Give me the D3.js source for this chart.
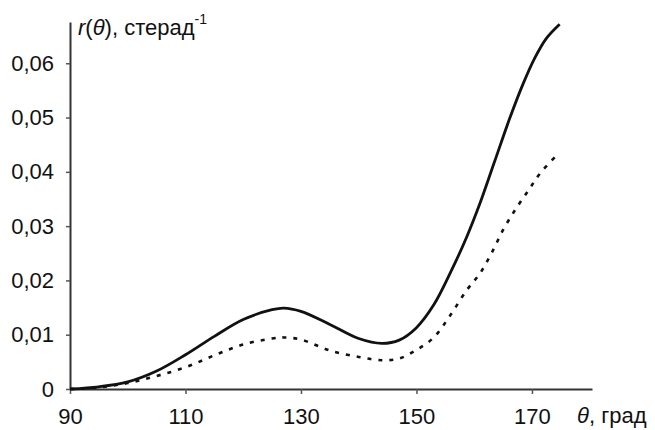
<!DOCTYPE html>
<html>
<head>
<meta charset="utf-8">
<script src="https://cdn.jsdelivr.net/npm/d3@7"></script>
<style>
  html, body { margin: 0; padding: 0; background: #fff; }
  svg { display: block; }
  text { font-family: "Liberation Sans", Arial, sans-serif; fill: #111; }
</style>
</head>
<body>
<svg id="chart" width="655" height="430"></svg>
<script>
// Data
const thetaSolid = [90, 95, 100, 105, 110, 115, 120, 125, 127, 130, 135, 140, 144, 147, 150, 153, 156, 158.7, 161, 163.5, 166.2, 168.5, 170.5, 172.5, 174.8];
const rSolid     = [0, 0.0004, 0.0013, 0.0033, 0.0063, 0.0097, 0.0128, 0.0146, 0.0149, 0.0143, 0.0119, 0.0093, 0.0084, 0.0090, 0.0113, 0.0155, 0.0217, 0.0280, 0.0342, 0.0418, 0.0500, 0.0563, 0.0610, 0.0646, 0.0672];
const thetaDashed = [90, 95, 100, 105, 110, 115, 120, 125, 127, 130, 135, 140, 144, 147, 150, 153, 156, 158.7, 161, 163, 165, 167.1, 169.4, 171.4, 174.6];
const rDashed     = [0, 0.0003, 0.0011, 0.0024, 0.0040, 0.0062, 0.0082, 0.0093, 0.0095, 0.0091, 0.0071, 0.0059, 0.0053, 0.0056, 0.0072, 0.0095, 0.0138, 0.0182, 0.0213, 0.0250, 0.0293, 0.0330, 0.0366, 0.0397, 0.0434];
const xTicks = [90, 110, 130, 150, 170];
const yTicks = [0, 0.01, 0.02, 0.03, 0.04, 0.05, 0.06];
const xDomain = [90, 180.4];
const yDomain = [0, 0.0676];

const svg = d3.select("#chart");
const margin = {left: 70, top: 22, right: 63, bottom: 41};
const W = 655, H = 430;

const x = d3.scaleLinear().domain(xDomain).range([margin.left, W - margin.right]);
const y = d3.scaleLinear().domain(yDomain).range([H - margin.bottom, margin.top]);

const fmtY = d => d === 0 ? "0" : d3.format(".2f")(d).replace(".", ",");

// Axes
const xAxis = svg.append("g")
  .attr("transform", `translate(0,${y(0)})`)
  .call(d3.axisBottom(x).tickValues(xTicks).tickSize(5).tickPadding(14).tickSizeOuter(0));
const yAxis = svg.append("g")
  .attr("transform", `translate(${x(90)},0)`)
  .call(d3.axisLeft(y).tickValues(yTicks).tickFormat(fmtY).tickSize(4).tickPadding(12).tickSizeOuter(0));

[xAxis, yAxis].forEach(g => {
  g.select(".domain").attr("stroke", "#333").attr("stroke-width", 2);
  g.selectAll(".tick line").attr("stroke", "#555").attr("stroke-width", 1.5);
  g.selectAll(".tick text").style("font-size", "22px").attr("fill", "#111");
});
xAxis.selectAll(".tick text").attr("dy", "0.71em");

// Lines
const line = d3.line().x(d => x(d[0])).y(d => y(d[1])).curve(d3.curveCatmullRom.alpha(0.5));
const solidData = thetaSolid.map((t, i) => [t, rSolid[i]]);
const dashedData = thetaDashed.map((t, i) => [t, rDashed[i]]);

svg.append("path").datum(dashedData)
  .attr("d", line).attr("fill", "none").attr("stroke", "#111")
  .attr("stroke-width", 2.6).attr("stroke-dasharray", "4,7");
svg.append("path").datum(solidData)
  .attr("d", line).attr("fill", "none").attr("stroke", "#111")
  .attr("stroke-width", 2.8).attr("stroke-linejoin", "round");

// Y axis title
const yt = svg.append("text").attr("x", 78).attr("y", 35).style("font-size", "22px");
yt.append("tspan").style("font-style", "italic").text("r");
yt.append("tspan").text("(");
yt.append("tspan").style("font-style", "italic").text("θ");
yt.append("tspan").text("), стерад");
yt.append("tspan").attr("dy", -11).style("font-size", "14px").text("-1");

// X axis title
const xt = svg.append("text").attr("x", 577).attr("y", 423).style("font-size", "22px");
xt.append("tspan").style("font-style", "italic").text("θ");
xt.append("tspan").text(", град");
</script>
</body>
</html>
